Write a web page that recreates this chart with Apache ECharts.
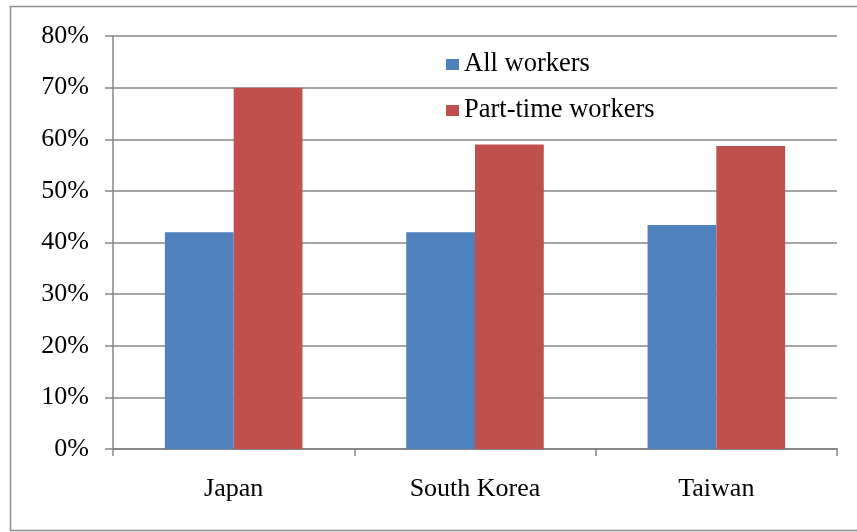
<!DOCTYPE html>
<html>
<head>
<meta charset="utf-8">
<script src="https://cdn.jsdelivr.net/npm/echarts@6/dist/echarts.min.js"></script>
<style>
  html, body { margin: 0; padding: 0; background: #fff; }
  #chart { width: 857px; height: 532px; }
</style>
</head>
<body>
<div id="chart"></div>
<script>
    // data
    var countries = ['Japan', 'South Korea', 'Taiwan'];
    var allWorkers = [42, 42, 43.4];
    var partTimeWorkers = [70, 59, 58.7];
    var seriesNames = ['All workers', 'Part-time workers'];

    var chart = echarts.init(document.getElementById('chart'));
    var serif = '"Liberation Serif", "DejaVu Serif", serif';
    var lineColor = '#878787';

    var option = {
        animation: false,
        backgroundColor: '#fff',
        graphic: [{
            type: 'rect',
            shape: { x: 10.5, y: 6.5, width: 860, height: 524 },
            style: { fill: 'none', stroke: '#8e8e8e', lineWidth: 1.5 },
            silent: true
        }],
        color: ['#4F81BD', '#C0504D'],
        legend: {
            orient: 'vertical',
            left: 441,
            top: 46,
            itemWidth: 13,
            itemHeight: 11,
            itemGap: 19,
            icon: 'rect',
            textStyle: { fontFamily: serif, fontSize: 26.5, color: '#000', lineHeight: 26 },
            data: seriesNames
        },
        grid: { left: 113, right: 20, top: 36, bottom: 83, containLabel: false },
        xAxis: {
            type: 'category',
            data: countries,
            axisLine: { lineStyle: { color: lineColor, width: 2 } },
            axisTick: { show: true, length: 7, lineStyle: { color: lineColor, width: 1.5 } },
            axisLabel: { margin: 27, fontFamily: serif, fontSize: 26, color: '#000', lineHeight: 26 }
        },
        yAxis: {
            type: 'value',
            min: 0,
            max: 80,
            interval: 10,
            axisLine: { show: true, lineStyle: { color: lineColor, width: 1.5 } },
            axisTick: { show: true, length: 8, lineStyle: { color: lineColor, width: 1.5 } },
            splitLine: { lineStyle: { color: lineColor, width: 1.5 } },
            axisLabel: {
                margin: 24, fontFamily: serif, fontSize: 26, color: '#000',
                formatter: '{value}%'
            }
        },
        series: [
            { name: seriesNames[0], type: 'bar', data: allWorkers, barGap: '0%', barCategoryGap: '43%' },
            { name: seriesNames[1], type: 'bar', data: partTimeWorkers, barGap: '0%', barCategoryGap: '43%' }
        ]
    };

    chart.setOption(option);
</script>
</body>
</html>
